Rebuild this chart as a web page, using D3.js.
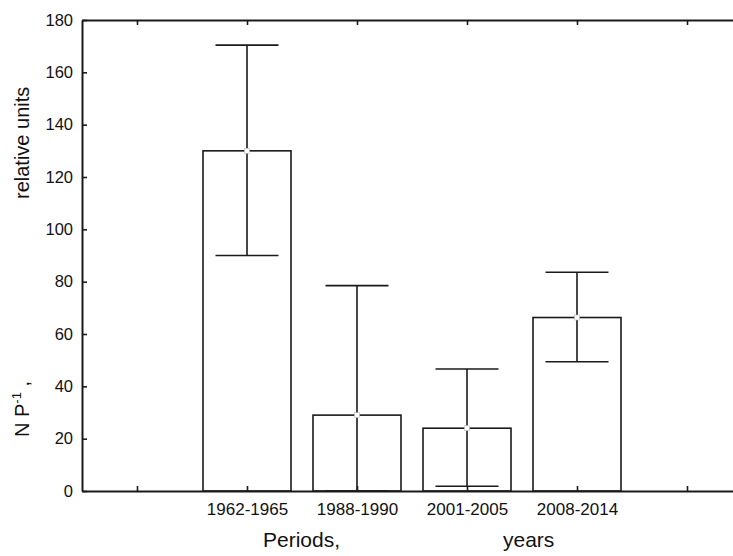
<!DOCTYPE html>
<html>
<head>
<meta charset="utf-8">
<script src="https://cdn.jsdelivr.net/npm/d3@7"></script>
<style>
  body { margin: 0; background: #fff; }
  svg { display: block; font-family: Arial, "Liberation Sans", sans-serif; }
</style>
</head>
<body>
<svg id="chart" width="733" height="556"></svg>
<script>
const categories = ["1962-1965", "1988-1990", "2001-2005", "2008-2014"];
const means = [130, 29, 24, 66.3];
const upper = [170.4, 78.5, 46.6, 83.6];
const lower = [90, 0, 1.8, 49.4];
const yTicks = [0, 20, 40, 60, 80, 100, 120, 140, 160, 180];

const svg = d3.select("#chart");
const margin = { top: 20, left: 82 };
const innerHeight = 471;
const slot = 110; // width of each x position

// x positions 1..6, categories sit at 2..5
const x = d3.scaleLinear()
  .domain([0.5, 6.5])
  .range([margin.left, margin.left + 6 * slot]);
const y = d3.scaleLinear()
  .domain([0, 180])
  .range([margin.top + innerHeight, margin.top]);

const data = categories.map((c, i) => ({
  cat: c, pos: i + 2, mean: means[i], hi: upper[i], lo: lower[i]
}));
const xTicks = d3.range(1, 7);
const labelOf = p => (p >= 2 && p <= 5 ? categories[p - 2] : "");

const ink = "#1a1a1a";

// bars
const barW = 0.8 * slot;
svg.selectAll("rect.bar")
  .data(data)
  .join("rect")
  .attr("class", "bar")
  .attr("x", d => x(d.pos) - barW / 2)
  .attr("y", d => y(d.mean))
  .attr("width", barW)
  .attr("height", d => y(0) - y(d.mean))
  .attr("fill", "#fff")
  .attr("stroke", ink)
  .attr("stroke-width", 1.6);

// whiskers
const capW = 63;
const wg = svg.append("g").attr("stroke", ink).attr("stroke-width", 1.6);
wg.selectAll("line.v")
  .data(data)
  .join("line")
  .attr("x1", d => x(d.pos)).attr("x2", d => x(d.pos))
  .attr("y1", d => y(d.lo)).attr("y2", d => y(d.hi));
wg.selectAll("line.hi")
  .data(data)
  .join("line")
  .attr("x1", d => x(d.pos) - capW / 2).attr("x2", d => x(d.pos) + capW / 2)
  .attr("y1", d => y(d.hi)).attr("y2", d => y(d.hi));
wg.selectAll("line.lo")
  .data(data)
  .join("line")
  .attr("x1", d => x(d.pos) - capW / 2).attr("x2", d => x(d.pos) + capW / 2)
  .attr("y1", d => y(d.lo)).attr("y2", d => y(d.lo));

// mean markers
svg.selectAll("rect.mean")
  .data(data)
  .join("rect")
  .attr("x", d => x(d.pos) - 2.5)
  .attr("y", d => y(d.mean) - 2.5)
  .attr("width", 5).attr("height", 5)
  .attr("fill", "#fff")
  .attr("stroke", "#bbb")
  .attr("stroke-width", 0.6);

// axes
function styleAxis(g) {
  g.selectAll("path, line").attr("stroke", ink).attr("stroke-width", 1.6);
  g.selectAll("text").attr("fill", "#111");
}

svg.append("g")
  .attr("transform", `translate(${margin.left},0)`)
  .call(d3.axisLeft(y).tickValues(yTicks).tickSizeInner(-5).tickSizeOuter(0).tickPadding(9))
  .call(styleAxis)
  .selectAll("text").attr("font-size", 16.5).attr("font-family", null);

const xAxis = svg.append("g")
  .attr("transform", `translate(0,${y(0)})`)
  .call(d3.axisBottom(x).tickValues(xTicks).tickFormat(labelOf).tickSizeInner(-5).tickSizeOuter(0).tickPadding(12))
  .call(styleAxis);
xAxis.selectAll("text").attr("font-size", 17).attr("font-family", null);
xAxis.selectAll("text").filter(d => labelOf(d) === "").remove();

svg.append("g")
  .attr("transform", `translate(0,${y(180)})`)
  .call(d3.axisTop(x).tickValues(xTicks).tickFormat("").tickSizeInner(-5).tickSizeOuter(0))
  .call(styleAxis)
  .selectAll("text").remove();

svg.selectAll(".domain").attr("stroke-width", 2);

// axis titles
const midX = (x.range()[0] + x.range()[1]) / 2;
svg.append("text")
  .attr("x", midX - 149).attr("y", 547)
  .attr("font-size", 21).attr("fill", "#111")
  .text("Periods,");
svg.append("text")
  .attr("x", midX + 91).attr("y", 547)
  .attr("font-size", 21).attr("fill", "#111")
  .text("years");

const yl1 = svg.append("text")
  .attr("x", 29).attr("y", 437)
  .attr("transform", "rotate(-90,29,437)")
  .attr("font-size", 20).attr("fill", "#111");
yl1.append("tspan").text("N P");
yl1.append("tspan").attr("font-size", 13).attr("dy", -8).text("-1");
yl1.append("tspan").attr("dy", 8).text(" ,");

svg.append("text")
  .attr("x", 29).attr("y", 199)
  .attr("transform", "rotate(-90,29,199)")
  .attr("font-size", 20).attr("fill", "#111")
  .text("relative units");
</script>
</body>
</html>
